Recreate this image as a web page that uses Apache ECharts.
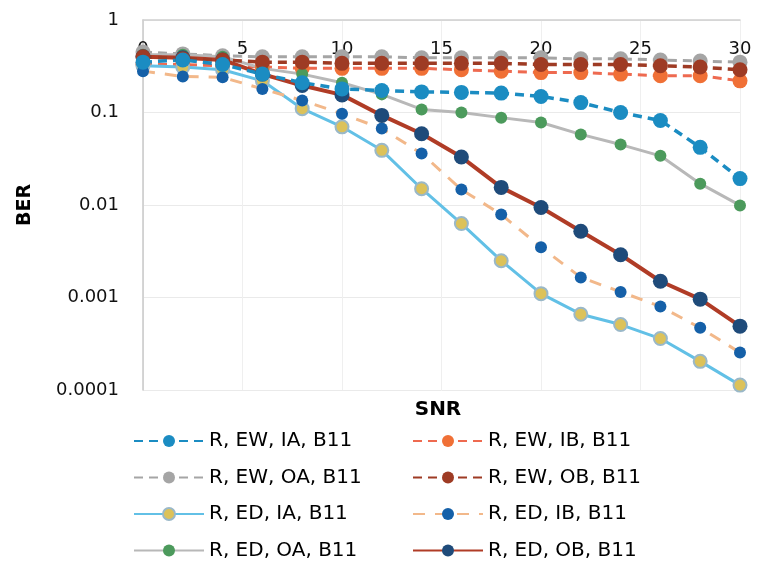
<!DOCTYPE html>
<html>
<head>
<meta charset="utf-8">
<script src="https://cdn.jsdelivr.net/npm/echarts@6/dist/echarts.min.js"></script>
<style>
  html, body { margin: 0; padding: 0; background: #fff; }
  #chart { width: 765px; height: 580px; }
</style>
</head>
<body>
<div id="chart"></div>
<script>
// SNR sample points (dB)
const snr = [0, 2, 4, 6, 8, 10, 12, 14, 16, 18, 20, 22, 24, 26, 28, 30];

// BER curves
const ewIA = [0.35, 0.37, 0.33, 0.26, 0.21, 0.18, 0.173, 0.167, 0.165, 0.162, 0.149, 0.128, 0.1, 0.082, 0.042, 0.0193];
const ewIB = [0.33, 0.33, 0.32, 0.31, 0.3, 0.3, 0.3, 0.3, 0.29, 0.28, 0.27, 0.27, 0.26, 0.25, 0.25, 0.22];
const ewOA = [0.45, 0.43, 0.41, 0.4, 0.4, 0.4, 0.4, 0.39, 0.39, 0.39, 0.39, 0.38, 0.38, 0.37, 0.36, 0.35];
const ewOB = [0.4, 0.38, 0.37, 0.35, 0.35, 0.34, 0.34, 0.34, 0.34, 0.34, 0.33, 0.33, 0.33, 0.32, 0.31, 0.29];
const edIA = [0.32, 0.31, 0.29, 0.22, 0.11, 0.07, 0.039, 0.015, 0.0063, 0.0025, 0.0011, 0.00066, 0.00051, 0.00036, 0.000204, 0.000113];
const edIB = [0.28, 0.245, 0.24, 0.18, 0.135, 0.097, 0.067, 0.036, 0.0147, 0.0079, 0.0035, 0.00165, 0.00115, 0.0008, 0.00047, 0.000254];
const edOA = [0.42, 0.42, 0.4, 0.3, 0.26, 0.21, 0.157, 0.108, 0.1, 0.088, 0.078, 0.058, 0.045, 0.034, 0.017, 0.0099];
const edOB = [0.4, 0.39, 0.37, 0.26, 0.196, 0.155, 0.093, 0.059, 0.033, 0.0155, 0.0094, 0.0052, 0.0029, 0.0015, 0.00096, 0.00049];

// Y tick labels, one per decade from 1 down to 1e-4
const berTicks = ['1', '0.1', '0.01', '0.001', '0.0001'];
const xTicks = ['0', '5', '10', '15', '20', '25', '30'];

const FONT = 'DejaVu Sans';

function pairs(ys) { return snr.map((x, i) => [x, ys[i]]); }

function makeSeries(name, ys, o) {
  return {
    name: name,
    type: 'line',
    data: pairs(ys),
    symbol: 'circle',
    symbolSize: o.size,
    z: o.z || 2,
    lineStyle: { color: o.line, width: o.width, type: o.dash || 'solid' },
    itemStyle: { color: o.marker, borderColor: o.border || o.marker, borderWidth: o.borderWidth || 0 },
    emphasis: { disabled: true },
    animation: false
  };
}

const series = [
  makeSeries('R, EW, OA, B11', ewOA, { line: '#a5a5a5', marker: '#a5a5a5', width: 3, dash: [9, 6], size: 15 }),
  makeSeries('R, EW, IB, B11', ewIB, { line: '#ee6a50', marker: '#f07036', width: 3, dash: [9, 6], size: 15 }),
  makeSeries('R, ED, OA, B11', edOA, { line: '#b8b8b8', marker: '#4c9a5c', width: 3, size: 12 }),
  makeSeries('R, ED, IA, B11', edIA, { line: '#62c0e6', marker: '#dcc25a', border: '#9ab8c8', borderWidth: 2, width: 3, size: 13 }),
  makeSeries('R, ED, IB, B11', edIB, { line: '#f2b88a', marker: '#1560a8', width: 3, dash: [12, 10], size: 12 }),
  makeSeries('R, ED, OB, B11', edOB, { line: '#b03c26', marker: '#1f4b7a', width: 4, size: 15 }),
  makeSeries('R, EW, OB, B11', ewOB, { line: '#9e3b24', marker: '#9e3b24', width: 3.5, dash: [9, 6], size: 15 }),
  makeSeries('R, EW, IA, B11', ewIA, { line: '#1b8cc2', marker: '#1b8cc2', width: 3.5, dash: [9, 6], size: 15 })
];

const legendText = { fontFamily: FONT, fontSize: 20, color: '#000', lineHeight: 20 };

const option = {
  backgroundColor: '#fff',
  animation: false,
  grid: { left: 143, right: 25, top: 20, bottom: 190, containLabel: false },
  xAxis: {
    type: 'value',
    position: 'top',
    min: 0, max: 30, interval: 5,
    axisLine: { show: true, onZero: false, lineStyle: { color: '#d0d0d0', width: 1.5 } },
    axisTick: { show: false },
    splitLine: { show: true, lineStyle: { color: '#efefef', width: 1 } },
    axisLabel: {
      inside: true, margin: 20,
      fontFamily: FONT, fontSize: 18, color: '#111',
      formatter: v => xTicks[Math.round(v / 5)]
    }
  },
  yAxis: {
    type: 'log',
    logBase: 10,
    min: 0.0001, max: 1,
    name: 'BER',
    nameLocation: 'middle',
    nameRotate: 90,
    nameGap: 108,
    nameTextStyle: { fontFamily: FONT, fontSize: 19, fontWeight: 'bold', color: '#000' },
    axisLine: { show: true, lineStyle: { color: '#c8c8c8', width: 1.5 } },
    axisTick: { show: false },
    splitLine: { show: true, lineStyle: { color: '#eaeaea', width: 1 } },
    axisLabel: {
      margin: 24,
      fontFamily: FONT, fontSize: 18, color: '#111',
      formatter: v => berTicks[Math.round(-Math.log10(v))]
    }
  },
  graphic: [{
    type: 'text',
    style: {
      text: 'SNR', x: 438, y: 410,
      textAlign: 'center', textVerticalAlign: 'middle',
      font: 'bold 20px "DejaVu Sans"', fill: '#000'
    }
  }],
  legend: [
    {
      orient: 'vertical', left: 128, top: 426,
      data: ['R, EW, IA, B11', 'R, EW, OA, B11', 'R, ED, IA, B11', 'R, ED, OA, B11'],
      itemWidth: 70, itemHeight: 15, itemGap: 16.5,
      textStyle: legendText, selectedMode: false
    },
    {
      orient: 'vertical', left: 407, top: 426,
      data: ['R, EW, IB, B11', 'R, EW, OB, B11', 'R, ED, IB, B11', 'R, ED, OB, B11'],
      itemWidth: 70, itemHeight: 15, itemGap: 16.5,
      textStyle: legendText, selectedMode: false
    }
  ],
  series: series
};

const chart = echarts.init(document.getElementById('chart'), null, { renderer: 'canvas' });
chart.setOption(option);
</script>
</body>
</html>
